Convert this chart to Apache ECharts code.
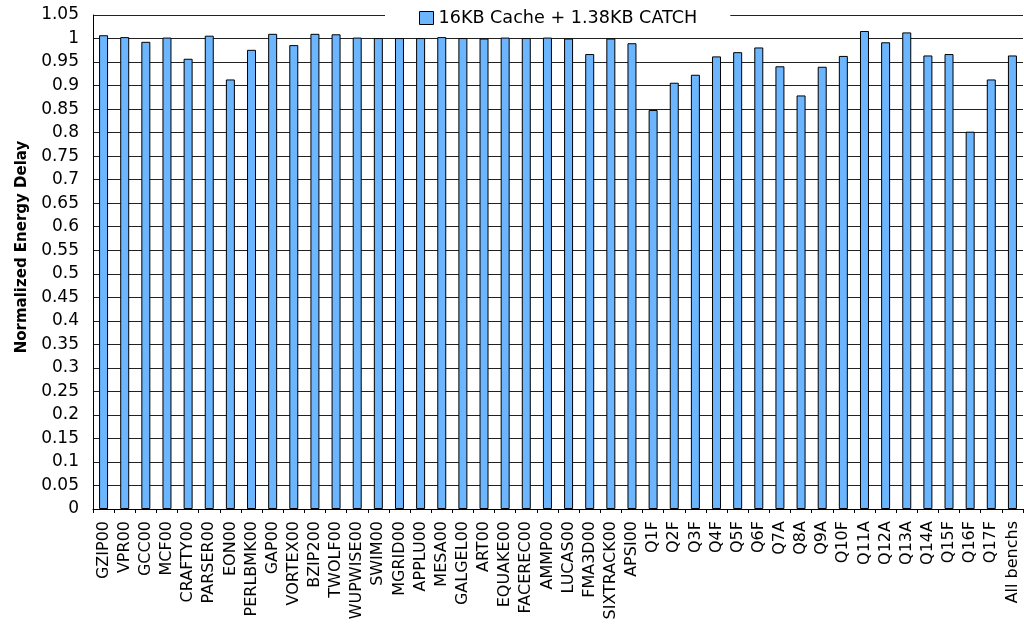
<!DOCTYPE html>
<html>
<head>
<meta charset="utf-8">
<title>Normalized Energy Delay</title>
<script src="https://cdn.jsdelivr.net/npm/echarts@6/dist/echarts.min.js"></script>
<style>
  html, body { margin: 0; padding: 0; background: #fff; }
  #chart { width: 1024px; height: 637px; }
</style>
</head>
<body>
<div id="chart"></div>
<script>
// Benchmarks: SPEC CPU2000 programs, TPC-H style queries, and the overall mean
const benchmarks = [
  'GZIP00', 'VPR00', 'GCC00', 'MCF00', 'CRAFTY00', 'PARSER00', 'EON00', 'PERLBMK00',
  'GAP00', 'VORTEX00', 'BZIP200', 'TWOLF00', 'WUPWISE00', 'SWIM00', 'MGRID00', 'APPLU00',
  'MESA00', 'GALGEL00', 'ART00', 'EQUAKE00', 'FACEREC00', 'AMMP00', 'LUCAS00', 'FMA3D00',
  'SIXTRACK00', 'APSI00', 'Q1F', 'Q2F', 'Q3F', 'Q4F', 'Q5F', 'Q6F', 'Q7A', 'Q8A', 'Q9A',
  'Q10F', 'Q11A', 'Q12A', 'Q13A', 'Q14A', 'Q15F', 'Q16F', 'Q17F', 'All benchs'
];

// Energy delay normalised to the baseline configuration
const catchEnergyDelay = [
  1.007, 1.003, 0.993, 1.002, 0.957, 1.006, 0.913, 0.976,
  1.010, 0.986, 1.010, 1.009, 1.002, 1.001, 1.001, 1.001,
  1.003, 1.001, 1.000, 1.002, 1.001, 1.002, 1.000, 0.967,
  1.000, 0.990, 0.848, 0.906, 0.923, 0.962, 0.971, 0.981, 0.941, 0.879, 0.940,
  0.963, 1.016, 0.992, 1.013, 0.964, 0.967, 0.802, 0.913, 0.964
];

const seriesName = '16KB Cache + 1.38KB CATCH';
const axisTitle = 'Normalized Energy Delay';

const FONT = '"DejaVu Sans", Verdana, sans-serif';

const chart = echarts.init(document.getElementById('chart'), null, { renderer: 'canvas' });

chart.setOption({
  animation: false,
  backgroundColor: '#ffffff',
  grid: { left: 93, right: 1, top: 15, bottom: 128, containLabel: false },
  legend: {
    data: [seriesName],
    top: 6,
    left: 385,
    backgroundColor: '#ffffff',
    padding: [2, 33, 2, 34],
    itemWidth: 14,
    itemHeight: 13,
    icon: 'rect',
    itemStyle: { borderColor: '#000', borderWidth: 1 },
    textStyle: { fontFamily: FONT, fontSize: 17.6, color: '#000', lineHeight: 20 }
  },
  xAxis: {
    type: 'category',
    data: benchmarks,
    axisLine: { lineStyle: { color: '#000', width: 1 } },
    axisTick: { show: true, length: 4, alignWithLabel: false, lineStyle: { color: '#000' } },
    axisLabel: {
      rotate: 90,
      interval: 0,
      margin: 12,
      fontFamily: FONT,
      fontSize: 16,
      color: '#000'
    },
    splitLine: { show: false }
  },
  yAxis: {
    type: 'value',
    min: 0,
    max: 1.05,
    interval: 0.05,
    name: axisTitle,
    nameLocation: 'middle',
    nameRotate: 90,
    nameGap: 63,
    nameTextStyle: {
      fontFamily: FONT, fontSize: 15, fontWeight: 'bold', color: '#000',
      padding: [0, 0, 0, 30]
    },
    axisLine: { show: true, lineStyle: { color: '#000', width: 1 } },
    axisTick: { show: false },
    axisLabel: {
      margin: 14,
      fontFamily: FONT,
      fontSize: 17,
      color: '#000',
      formatter: v => String(+v.toFixed(2))
    },
    splitLine: { show: true, lineStyle: { color: '#222', width: 1 } }
  },
  series: [{
    name: seriesName,
    type: 'bar',
    data: catchEnergyDelay,
    barWidth: 9,
    itemStyle: { color: '#6CB6FF', borderColor: '#000', borderWidth: 1 }
  }]
});
</script>
</body>
</html>
